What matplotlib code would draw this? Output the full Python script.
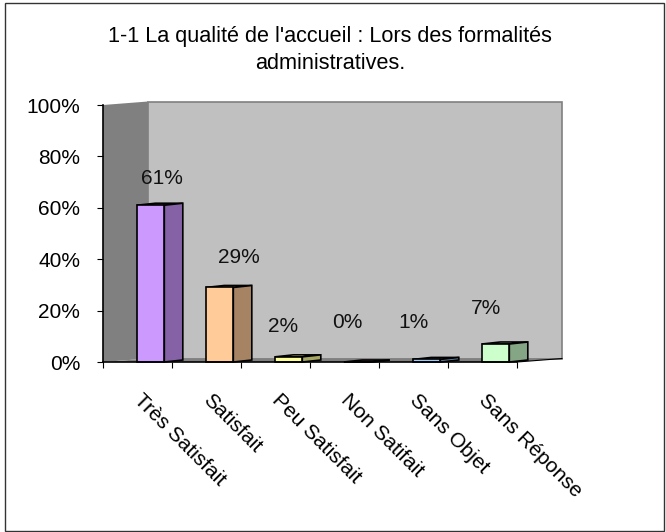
import matplotlib
matplotlib.use('Agg')
import matplotlib.pyplot as plt
from matplotlib.patches import Polygon, Rectangle

plt.rcParams['font.family'] = ['Liberation Sans', 'DejaVu Sans']

categories = ['Très Satisfait', 'Satisfait', 'Peu Satisfait', 'Non Satifait', 'Sans Objet', 'Sans Réponse']
values = [61, 29, 2, 0, 1, 7]
labels = ['61%', '29%', '2%', '0%', '1%', '7%']
yticks = [0, 20, 40, 60, 80, 100]
front_colors = ['#cc99ff', '#ffcc99', '#ffff99', '#993333', '#99ccff', '#ccffcc']
side_colors = ['#8562a6', '#a68463', '#a6a663', '#632121', '#6385a6', '#85a685']
title = "1-1 La qualité de l'accueil : Lors des formalités\nadministratives."

# labels were moved by hand in the original, offset from top of bar in pixels
label_dx = [11.5, 19.5, -5.5, -10.5, -13.5, -9.5]
label_dy = [27, 29.5, 30, 39, 36.5, 36]

W, H = 666, 532
fig = plt.figure(figsize=(W / 100, H / 100), dpi=100, facecolor='white')
fig.add_artist(Rectangle((5 / W, 1 - 530.5 / H), 659 / W, 527.5 / H, transform=fig.transFigure,
                         fc='none', ec='#333333', lw=1.0))

ax = fig.add_axes([103 / W, 1 - 362 / H, 414 / W, 257 / H])
ax.set_xlim(0, 6)
ax.set_ylim(0, 100)
ax.patch.set_visible(False)
for s in ax.spines.values():
    s.set_visible(False)

# depth of the walls, in data units
dx = 45 / 69
dy = 3.5 / 2.57
ax.add_patch(Polygon([(0, 0), (dx, dy), (dx, 100 + dy), (0, 100)], fc='#808080', ec='none', clip_on=False))
ax.add_patch(Polygon([(dx, dy), (6 + dx, dy), (6 + dx, 100 + dy), (dx, 100 + dy)], fc='#c0c0c0', ec='#808080', lw=1.2, clip_on=False))
ax.add_patch(Polygon([(0, 0), (6, 0), (6 + dx, dy), (dx, dy)], fc='#808080', ec='none', clip_on=False))

# bars
bw = 27.5 / 69
bd = 18.5 / 69
br = 2 / 2.57
for i, v in enumerate(values):
    x0 = i + 0.49
    ax.add_patch(Polygon([(x0, v), (x0 + bw, v), (x0 + bw + bd, v + br), (x0 + bd, v + br)],
                         fc=front_colors[i], ec='black', lw=1.2, clip_on=False))
    ax.add_patch(Polygon([(x0 + bw, 0), (x0 + bw + bd, br), (x0 + bw + bd, v + br), (x0 + bw, v)],
                         fc=side_colors[i], ec='black', lw=1.2, clip_on=False))
    ax.add_patch(Rectangle((x0, 0), bw, v, fc=front_colors[i], ec='black', lw=1.2, clip_on=False))
    ax.annotate(labels[i], xy=(x0 + bw / 2, v), xytext=(label_dx[i], label_dy[i]), textcoords='offset pixels',
                ha='center', va='center', fontsize=15, color='#111111', annotation_clip=False)

# axis lines and ticks
ax.plot([0, 0], [0, 100], color='black', lw=1.2, clip_on=False)
ax.plot([0, 6], [0, 0], color='black', lw=1.2, clip_on=False)
ax.plot([6, 6 + dx], [0, dy], color='black', lw=0.8, clip_on=False)
ax.set_yticks(yticks)
ax.set_yticklabels([f'{t}%' for t in yticks], fontsize=15)
ax.set_xticks(range(7))
ax.set_xticklabels([])
ax.tick_params(axis='both', length=4.3, width=0.8, color='black')
ax.tick_params(axis='y', pad=12)

for i, c in enumerate(categories):
    ax.annotate(c, xy=(i + 0.5, 0), xytext=(-1, -35), textcoords='offset pixels',
                rotation=-45, rotation_mode='anchor', ha='left', va='center', fontsize=15,
                annotation_clip=False)

fig.text(330 / W, 1 - 50 / H, title, ha='center', va='center', fontsize=15.6, linespacing=1.35)

fig.savefig('out.png', dpi=100)
